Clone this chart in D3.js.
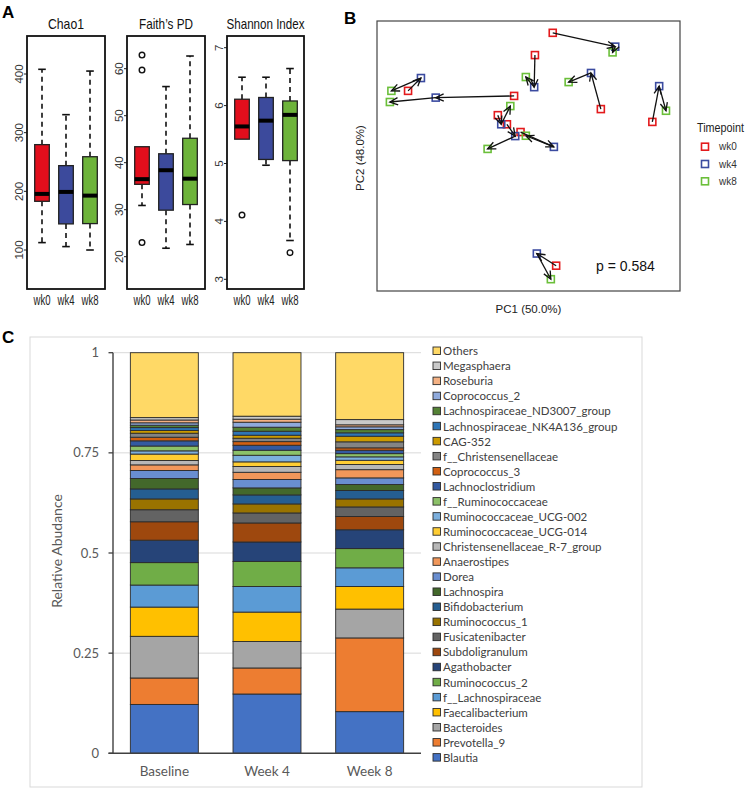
<!DOCTYPE html>
<html><head><meta charset="utf-8">
<script src="https://cdn.jsdelivr.net/npm/d3@7"></script>
<style>body{margin:0;background:#fff}</style>
</head><body>
<svg id="fig" width="750" height="789"></svg>
<script>
// ---------------- DATA ----------------
const timepoints = ["wk0", "wk4", "wk8"];
// box stats: [whiskerLow, Q1, median, Q3, whiskerHigh]
const chao1Box = [[112.6, 183, 195.6, 279.6, 408], [105.8, 144.5, 199, 243.8, 330.7], [100, 145, 192.7, 259, 405]];
const chao1Out = [[], [], []];
const chao1Ticks = [100, 200, 300, 400];
const faithBox = [[30.9, 35.4, 36.5, 43.4, 43.4], [21.8, 29.9, 38.4, 41.9, 56.2], [22.6, 31.1, 36.6, 45.2, 62.7]];
const faithOut = [[62.9, 59.7, 23], [], []];
const faithTicks = [20, 30, 40, 50, 60];
const shannonBox = [[5.42, 5.42, 5.64, 6.11, 6.49], [4.97, 5.07, 5.74, 6.14, 6.49], [3.67, 5.05, 5.84, 6.08, 6.64]];
const shannonOut = [[4.11], [], [3.46]];
const shannonTicks = [3, 4, 5, 6, 7];

// PCoA coordinates per subject [PC1, PC2]
const pcoaWk0 = [[0.064, 0.365], [0.017, 0.299], [0.191, 0.139], [0.327, 0.101], [-0.318, 0.193], [-0.038, 0.178], [-0.081, 0.121], [-0.057, 0.094], [-0.021, 0.071], [0.073, -0.325]];
const pcoaWk4 = [[0.229, 0.324], [0.015, 0.204], [0.165, 0.246], [0.345, 0.207], [-0.284, 0.231], [-0.245, 0.173], [-0.072, 0.094], [-0.035, 0.059], [0.067, 0.027], [0.022, -0.289]];
const pcoaWk8 = [[0.222, 0.307], [-0.007, 0.234], [0.106, 0.219], [0.363, 0.134], [-0.362, 0.193], [-0.366, 0.160], [-0.048, 0.148], [-0.108, 0.021], [-0.007, 0.060], [0.059, -0.365]];

// Taxa (bottom to top of stacks)
const taxa = ["Blautia", "Prevotella_9", "Bacteroides", "Faecalibacterium", "f__Lachnospiraceae", "Ruminococcus_2", "Agathobacter", "Subdoligranulum", "Fusicatenibacter", "Ruminococcus_1", "Bifidobacterium", "Lachnospira", "Dorea", "Anaerostipes", "Christensenellaceae_R-7_group", "Ruminococcaceae_UCG-014", "Ruminococcaceae_UCG-002", "f__Ruminococcaceae", "Lachnoclostridium", "Coprococcus_3", "f__Christensenellaceae", "CAG-352", "Lachnospiraceae_NK4A136_group", "Lachnospiraceae_ND3007_group", "Coprococcus_2", "Roseburia", "Megasphaera", "Others"];
const taxaColors = ["#4472C4", "#ED7D31", "#A5A5A5", "#FFC000", "#5B9BD5", "#70AD47", "#264478", "#9E480E", "#636363", "#997300", "#255E91", "#43682B", "#698ED0", "#F1975A", "#B7B7B7", "#FFCD33", "#7CAFDD", "#8CC168", "#335AA1", "#D26012", "#848484", "#CC9A00", "#2E75B6", "#548235", "#8FAADC", "#F4B183", "#C9C9C9", "#FFD966"];
const sampleNames = ["Baseline", "Week 4", "Week 8"];
const baselineAbund = [0.122, 0.066, 0.104, 0.073, 0.055, 0.056, 0.056, 0.046, 0.030, 0.027, 0.025, 0.026, 0.020, 0.014, 0.011, 0.016, 0.008, 0.012, 0.013, 0.009, 0.010, 0.007, 0.007, 0.006, 0.006, 0.007, 0.006, 0.162];
const week4Abund = [0.148, 0.065, 0.066, 0.0735, 0.064, 0.0625, 0.0485, 0.0475, 0.025, 0.0225, 0.0225, 0.0175, 0.021, 0.018, 0.0145, 0.0115, 0.0165, 0.0125, 0.0125, 0.009, 0.0085, 0.0075, 0.010, 0.010, 0.0125, 0.0075, 0.0075, 0.1585];
const week8Abund = [0.104, 0.184, 0.072, 0.0565, 0.0465, 0.048, 0.047, 0.033, 0.024, 0.020, 0.021, 0.015, 0.0165, 0.0205, 0.013, 0.0105, 0.0085, 0.008, 0.0085, 0.006, 0.015, 0.014, 0.0085, 0.008, 0.007, 0.005, 0.013, 0.167];
const abundTicks = [0, 0.25, 0.5, 0.75, 1];
const abundTickLabels = ["0", "0.25", "0.5", "0.75", "1"];

// ---------------- DRAW ----------------
const svg = d3.select("#fig");
const RFONT = "'Liberation Sans', Arial, sans-serif";
const XFONT = "Lato, 'Open Sans', sans-serif";
const boxFill = ["#e20e1c", "#3c4a9c", "#6db33a"];

// Panel labels
svg.append("text").attr("x", 2).attr("y", 18).text("A").attr("font-family", RFONT).attr("font-weight", "bold").attr("font-size", 17);
svg.append("text").attr("x", 344).attr("y", 24).text("B").attr("font-family", RFONT).attr("font-weight", "bold").attr("font-size", 17);
svg.append("text").attr("x", 2).attr("y", 343).text("C").attr("font-family", RFONT).attr("font-weight", "bold").attr("font-size", 17);

// ---- Panel A ----
const boxPanels = [
  {title: "Chao1", tw: 36, box: chao1Box, out: chao1Out, ticks: chao1Ticks, domain: [100, 400], range: [250, 74], x0: 27, x1: 105},
  {title: "Faith\u2019s PD", tw: 54, box: faithBox, out: faithOut, ticks: faithTicks, domain: [20, 60], range: [256.7, 68.7], x0: 127, x1: 205},
  {title: "Shannon Index", tw: 78, box: shannonBox, out: shannonOut, ticks: shannonTicks, domain: [3, 7], range: [279.3, 47.7], x0: 227, x1: 304}
];
const frameTop = 36, frameBot = 289;
boxPanels.forEach(p => {
  const g = svg.append("g");
  const y = d3.scaleLinear().domain(p.domain).range(p.range);
  const x = d3.scalePoint().domain(timepoints).range([p.x0 + 15, p.x0 + 63]);
  const hw = 7.3;
  // title
  g.append("text").attr("x", (p.x0 + p.x1) / 2).attr("y", 28.5).attr("text-anchor", "middle")
    .attr("font-family", RFONT).attr("font-size", 15).attr("fill", "#111")
    .attr("textLength", p.tw).attr("lengthAdjust", "spacingAndGlyphs").text(p.title);
  // y ticks
  p.ticks.forEach(t => {
    g.append("line").attr("x1", p.x0 - 3).attr("x2", p.x0).attr("y1", y(t)).attr("y2", y(t)).attr("stroke", "#222").attr("stroke-width", 1);
    g.append("text").attr("transform", `translate(${p.x0 - 4},${y(t)}) rotate(-90)`)
      .attr("text-anchor", "middle").attr("font-family", RFONT).attr("font-size", 11.5).attr("fill", "#333").text(t);
  });
  timepoints.forEach((tp, i) => {
    const s = p.box[i];
    const cx = x(tp);
    // whiskers
    if (s[4] > s[3]) {
      g.append("line").attr("x1", cx).attr("x2", cx).attr("y1", y(s[3])).attr("y2", y(s[4])).attr("stroke", "#111").attr("stroke-width", 1.6).attr("stroke-dasharray", "5,4");
      g.append("line").attr("x1", cx - 3.8).attr("x2", cx + 3.8).attr("y1", y(s[4])).attr("y2", y(s[4])).attr("stroke", "#111").attr("stroke-width", 1.6);
    }
    if (s[0] < s[1]) {
      g.append("line").attr("x1", cx).attr("x2", cx).attr("y1", y(s[1])).attr("y2", y(s[0])).attr("stroke", "#111").attr("stroke-width", 1.6).attr("stroke-dasharray", "5,4");
      g.append("line").attr("x1", cx - 3.8).attr("x2", cx + 3.8).attr("y1", y(s[0])).attr("y2", y(s[0])).attr("stroke", "#111").attr("stroke-width", 1.6);
    }
    g.append("rect").attr("x", cx - hw).attr("width", 2 * hw).attr("y", y(s[3])).attr("height", y(s[1]) - y(s[3]))
      .attr("fill", boxFill[i]).attr("stroke", "#222").attr("stroke-width", 1.3);
    g.append("line").attr("x1", cx - hw).attr("x2", cx + hw).attr("y1", y(s[2])).attr("y2", y(s[2])).attr("stroke", "#000").attr("stroke-width", 4);
    p.out[i].forEach(o => {
      g.append("circle").attr("cx", cx).attr("cy", y(o)).attr("r", 2.8).attr("fill", "none").attr("stroke", "#111").attr("stroke-width", 1.4);
    });
    g.append("text").attr("x", cx).attr("y", 305).attr("text-anchor", "middle").attr("font-family", RFONT).attr("font-size", 14).attr("fill", "#222")
      .attr("textLength", 17).attr("lengthAdjust", "spacingAndGlyphs").text(tp);
  });
  g.append("rect").attr("x", p.x0).attr("y", frameTop).attr("width", p.x1 - p.x0).attr("height", frameBot - frameTop)
    .attr("fill", "none").attr("stroke", "#111").attr("stroke-width", 1.8);
});

// ---- Panel B ----
const bx = d3.scaleLinear().domain([-0.4, 0.4]).range([377, 680]);
const by = d3.scaleLinear().domain([-0.4, 0.4]).range([291, 21]);
const pcColors = ["#e31a1c", "#3b4ba0", "#6bbf3a"];
const gB = svg.append("g");
gB.append("rect").attr("x", 377).attr("y", 21).attr("width", 303).attr("height", 270).attr("fill", "none").attr("stroke", "#444").attr("stroke-width", 1.2);
const defs = svg.append("defs");
defs.append("marker").attr("id", "arr").attr("viewBox", "-10 -6 12 12").attr("refX", 0).attr("refY", 0)
  .attr("markerWidth", 12).attr("markerHeight", 12).attr("markerUnits", "userSpaceOnUse").attr("orient", "auto")
  .append("path").attr("d", "M-8,-3.6 L0,0 L-8,3.6").attr("fill", "none").attr("stroke", "#111").attr("stroke-width", 1.3);
const pcSets = [pcoaWk0, pcoaWk4, pcoaWk8];
pcSets.forEach((set, k) => {
  gB.selectAll(null).data(set).enter().append("rect")
    .attr("x", d => bx(d[0]) - 3.5).attr("y", d => by(d[1]) - 3.5).attr("width", 7).attr("height", 7)
    .attr("fill", "none").attr("stroke", pcColors[k]).attr("stroke-width", 1.6);
});
pcoaWk0.forEach((d, i) => {
  const a = pcoaWk0[i], b = pcoaWk4[i], c = pcoaWk8[i];
  gB.append("line").attr("x1", bx(a[0])).attr("y1", by(a[1])).attr("x2", bx(b[0])).attr("y2", by(b[1]))
    .attr("stroke", "#111").attr("stroke-width", 1.3).attr("marker-end", "url(#arr)");
  gB.append("line").attr("x1", bx(b[0])).attr("y1", by(b[1])).attr("x2", bx(c[0])).attr("y2", by(c[1]))
    .attr("stroke", "#111").attr("stroke-width", 1.3).attr("marker-end", "url(#arr)");
});
gB.append("text").attr("x", 596).attr("y", 271).attr("font-family", RFONT).attr("font-size", 14).attr("fill", "#111").text("p = 0.584");
gB.append("text").attr("x", 528.5).attr("y", 313).attr("text-anchor", "middle").attr("font-family", RFONT).attr("font-size", 11.5).attr("fill", "#222").text("PC1 (50.0%)");
gB.append("text").attr("transform", "translate(364,158) rotate(-90)").attr("text-anchor", "middle").attr("font-family", RFONT).attr("font-size", 11.5).attr("fill", "#222").text("PC2 (48.0%)");
gB.append("text").attr("x", 697).attr("y", 132).attr("font-family", RFONT).attr("font-size", 12.5).attr("fill", "#222")
  .attr("textLength", 47).attr("lengthAdjust", "spacingAndGlyphs").text("Timepoint");
timepoints.forEach((tp, i) => {
  const yy = 146.7 + i * 17.3;
  gB.append("rect").attr("x", 701.5).attr("y", yy - 3.5).attr("width", 7).attr("height", 7).attr("fill", "none").attr("stroke", pcColors[i]).attr("stroke-width", 1.6);
  gB.append("text").attr("x", 719).attr("y", yy + 3.5).attr("font-family", RFONT).attr("font-size", 10).attr("fill", "#333").text(tp);
});

// ---- Panel C ----
const gC = svg.append("g");
gC.append("rect").attr("x", 30).attr("y", 337).attr("width", 612).attr("height", 450).attr("fill", "#fff").attr("stroke", "#d9d9d9").attr("stroke-width", 1);
const cy = d3.scaleLinear().domain([0, 1]).range([753.3, 352.7]);
const cx = d3.scaleBand().domain(sampleNames).range([113, 421]).paddingInner(0.338).paddingOuter(0.169);
abundTicks.forEach((t, i) => {
  if (t > 0) gC.append("line").attr("x1", 113).attr("x2", 421).attr("y1", cy(t)).attr("y2", cy(t)).attr("stroke", "#d9d9d9").attr("stroke-width", 1);
  gC.append("line").attr("x1", 108.5).attr("x2", 113).attr("y1", cy(t)).attr("y2", cy(t)).attr("stroke", "#404040").attr("stroke-width", 1.3);
  gC.append("text").attr("x", 99).attr("y", cy(t) + 4.5).attr("text-anchor", "end").attr("font-family", XFONT).attr("font-size", 13).attr("fill", "#595959").text(abundTickLabels[i]);
});
const abundSets = [baselineAbund, week4Abund, week8Abund];
abundSets.forEach((vals, s) => {
  let cum = 0;
  vals.forEach((v, j) => {
    const y0 = cum, y1 = cum + v;
    cum = y1;
    gC.append("rect").attr("x", cx(sampleNames[s])).attr("width", cx.bandwidth())
      .attr("y", cy(y1)).attr("height", cy(y0) - cy(y1))
      .attr("fill", taxaColors[j]).attr("stroke", "#2b2b2b").attr("stroke-width", 0.9);
  });
  gC.append("text").attr("x", cx(sampleNames[s]) + cx.bandwidth() / 2).attr("y", 776).attr("text-anchor", "middle")
    .attr("font-family", XFONT).attr("font-size", 13.5).attr("fill", "#595959").text(sampleNames[s]);
});
gC.append("line").attr("x1", 113).attr("x2", 113).attr("y1", cy(0)).attr("y2", cy(1)).attr("stroke", "#404040").attr("stroke-width", 1.4);
gC.append("line").attr("x1", 108.5).attr("x2", 421).attr("y1", cy(0)).attr("y2", cy(0)).attr("stroke", "#404040").attr("stroke-width", 1.4);
gC.append("text").attr("transform", "translate(62,551) rotate(-90)").attr("text-anchor", "middle")
  .attr("font-family", XFONT).attr("font-size", 14).attr("fill", "#595959").text("Relative Abudance");
// legend
const legendOrder = taxa.map((t, i) => i).reverse();
legendOrder.forEach((j, k) => {
  const yy = 351 + k * 15.06;
  gC.append("rect").attr("x", 433).attr("y", yy - 4).attr("width", 7.5).attr("height", 7.5)
    .attr("fill", taxaColors[j]).attr("stroke", "#2b2b2b").attr("stroke-width", 0.9);
  gC.append("text").attr("x", 443).attr("y", yy + 4.2).attr("font-family", XFONT).attr("font-size", 11.5).attr("fill", "#404040").text(taxa[j]);
});
</script>
</body></html>
